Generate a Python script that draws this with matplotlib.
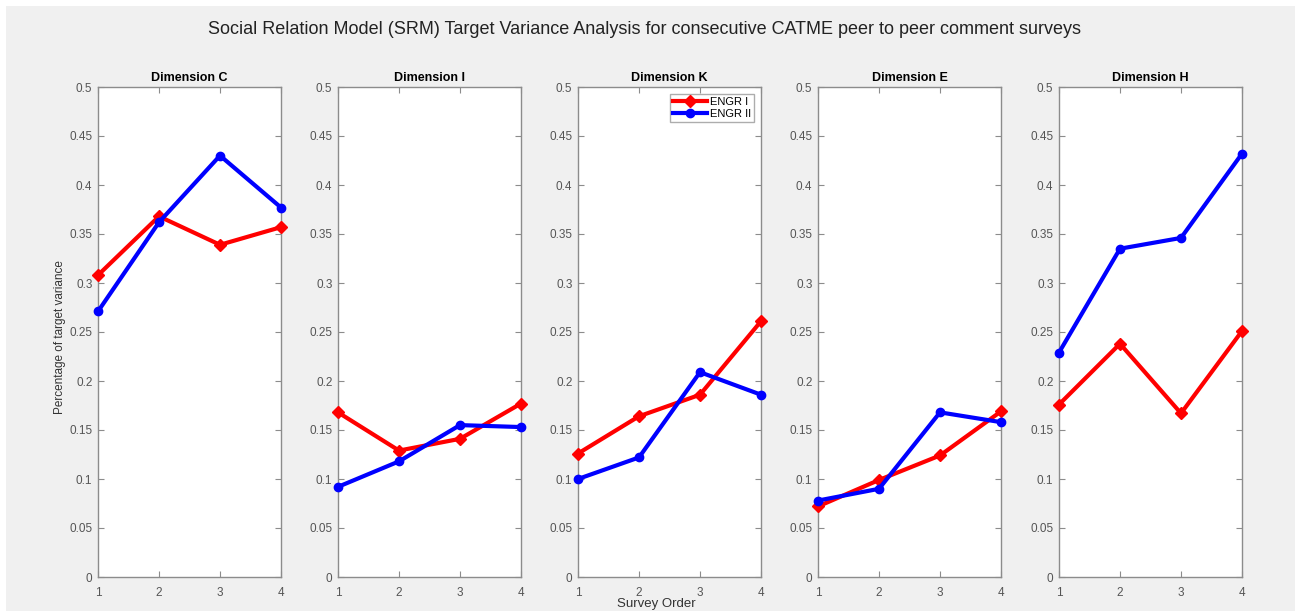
import matplotlib
matplotlib.use("Agg")
import matplotlib.pyplot as plt
from matplotlib.patches import Rectangle

plt.rcParams['font.family'] = ['Liberation Sans', 'DejaVu Sans']

survey = [1, 2, 3, 4]
dimensions = ["Dimension C", "Dimension I", "Dimension K", "Dimension E", "Dimension H"]
engr1 = {
    "Dimension C": [0.308, 0.368, 0.339, 0.357],
    "Dimension I": [0.168, 0.129, 0.141, 0.177],
    "Dimension K": [0.126, 0.164, 0.186, 0.261],
    "Dimension E": [0.072, 0.099, 0.124, 0.169],
    "Dimension H": [0.176, 0.238, 0.167, 0.251],
}
engr2 = {
    "Dimension C": [0.271, 0.362, 0.430, 0.377],
    "Dimension I": [0.092, 0.118, 0.155, 0.153],
    "Dimension K": [0.100, 0.122, 0.209, 0.186],
    "Dimension E": [0.078, 0.090, 0.168, 0.158],
    "Dimension H": [0.229, 0.335, 0.346, 0.432],
}
yticks = [0, 0.05, 0.1, 0.15, 0.2, 0.25, 0.3, 0.35, 0.4, 0.45, 0.5]
ytick_labels = ["0", "0.05", "0.1", "0.15", "0.2", "0.25", "0.3", "0.35", "0.4", "0.45", "0.5"]

W, H = 1295, 611
fig = plt.figure(figsize=(W / 100, H / 100), dpi=100, facecolor='white')
fig.patches.append(Rectangle((6 / W, 0), 1 - 6 / W, 1 - 6 / H, transform=fig.transFigure,
                             facecolor='#f0f0f0', edgecolor='none', zorder=-10))

spine_c = '#8c8c8c'
tick_c = '#555555'
lefts = [98, 338, 578, 818, 1059]
aw, top, bottom = 183, 87, 577
axes = []
for i, dim in enumerate(dimensions):
    ax = fig.add_axes([lefts[i] / W, 1 - bottom / H, aw / W, (bottom - top) / H])
    ax.set_facecolor('white')
    ax.plot(survey, engr1[dim], color='#ff0000', lw=3, marker='D', ms=6,
            label='ENGR I', clip_on=False, zorder=3)
    ax.plot(survey, engr2[dim], color='#0000ff', lw=3, marker='o', ms=6,
            label='ENGR II', clip_on=False, zorder=4)
    ax.set_xlim(1, 4)
    ax.set_ylim(0, 0.5)
    ax.set_xticks(survey)
    ax.set_xticklabels([str(s) for s in survey])
    ax.set_yticks(yticks)
    ax.set_yticklabels(ytick_labels)
    ax.tick_params(direction='in', top=True, right=True, length=4, width=0.8,
                   color=spine_c, labelcolor=tick_c, labelsize=8.5)
    ax.tick_params(axis='y', pad=4)
    ax.tick_params(axis='x', pad=7)
    for s in ax.spines.values():
        s.set_color(spine_c)
        s.set_linewidth(1)
    ax.set_title(dim, fontsize=9, fontweight='bold', pad=4)
    axes.append(ax)
    if i == 2:
        ax.legend(loc='upper right', fontsize=8, frameon=True, fancybox=False,
                  edgecolor='#999999', handlelength=3.0, borderpad=0.3,
                  labelspacing=0.15, handletextpad=0.3, borderaxespad=0.6)

fig.text(60 / W, 1 - 337 / H, 'Percentage of target variance', rotation=90,
         ha='center', va='center', fontsize=8.5, color='#333333')
fig.text(656 / W, 1 - 604 / H, 'Survey Order', ha='center', va='center', fontsize=9.5, color='#333333')
fig.text(644 / W, 1 - 29 / H,
         'Social Relation Model (SRM) Target Variance Analysis for consecutive CATME peer to peer comment surveys',
         ha='center', va='center', fontsize=13, color='#222222')

fig.savefig('out.png', dpi=100, facecolor=fig.get_facecolor())
